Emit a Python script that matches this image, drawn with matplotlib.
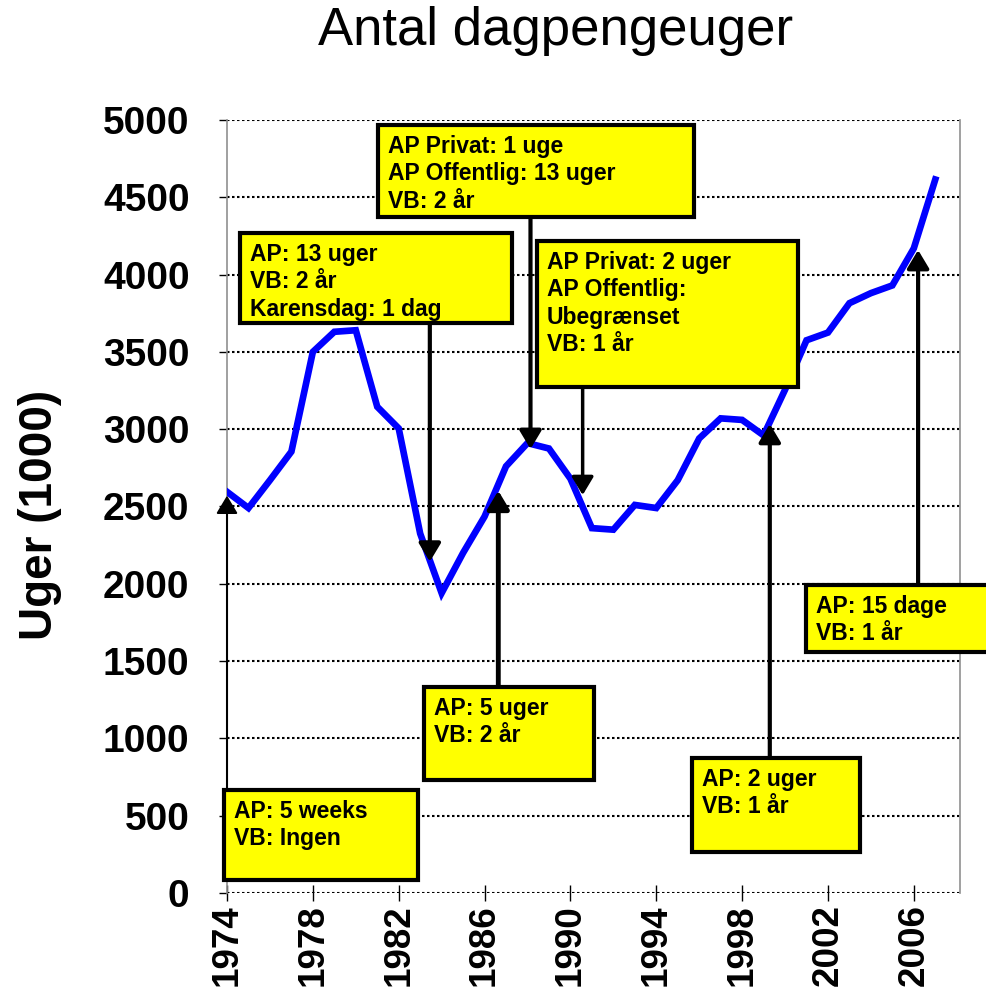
"""Antal dagpengeuger 1974-2007 med regelændringer."""
import numpy as np
import matplotlib
matplotlib.use("Agg")
import matplotlib.pyplot as plt
from matplotlib.patches import Rectangle

plt.rcParams['font.family'] = ['Liberation Sans', 'DejaVu Sans']

# * Data
years = np.arange(1974, 2008)
weeks = [2595, 2490, 2670, 2855, 3500, 3630, 3640, 3145, 3005, 2325,
         1940, 2200, 2435, 2760, 2910, 2875, 2680, 2360, 2350, 2510,
         2490, 2670, 2940, 3070, 3060, 2960, 3255, 3575, 3625, 3815,
         3880, 3930, 4170, 4615]

y_ticks = np.arange(0, 5001, 500)
x_ticks = np.arange(1974, 2007, 4)

notes = [
    "AP: 5 weeks\nVB: Ingen",
    "AP: 13 uger\nVB: 2 år\nKarensdag: 1 dag",
    "AP Privat: 1 uge\nAP Offentlig: 13 uger\nVB: 2 år",
    "AP Privat: 2 uger\nAP Offentlig:\nUbegrænset\nVB: 1 år",
    "AP: 5 uger\nVB: 2 år",
    "AP: 2 uger\nVB: 1 år",
    "AP: 15 dage\nVB: 1 år",
]

# box (left, bottom, right, top) in data coords
note_boxes = [
    (1973.86, 84, 1982.90, 666),
    (1974.61, 3687, 1987.27, 4269),
    (1981.03, 4373, 1995.75, 4968),
    (1988.44, 3273, 2000.60, 4217),
    (1983.18, 731, 1991.09, 1332),
    (1995.66, 265, 2003.48, 873),
    (2000.97, 1559, 2010.00, 1992),
]

# arrow (x, y start, y tip, linewidth)
note_arrows = [
    (1974.00, 666, 2570, 1.5),
    (1983.45, 3687, 2143, 3.0),
    (1988.14, 4373, 2872, 3.0),
    (1990.57, 3273, 2574, 2.5),
    (1986.64, 1332, 2602, 3.5),
    (1999.29, 873, 3034, 3.0),
    (2006.20, 1992, 4159, 3.0),
]

fig = plt.figure(figsize=(9.87, 9.9), dpi=100)
ax = fig.add_axes([0.23, 0.098, 0.7426, 0.7808])

ax.plot(years, weeks, color="#0000FF", lw=4.8, zorder=3, solid_joinstyle="miter")

ax.set_xlim(1974, 2008.15)
ax.set_ylim(0, 5000)
ax.set_yticks(y_ticks)
ax.set_xticks(x_ticks)
ax.set_xticklabels([str(y) for y in x_ticks], rotation=90, fontsize=26.5,
                   fontweight="bold")
ax.set_yticklabels([str(v) for v in y_ticks], fontsize=28, fontweight="bold")
ax.tick_params(axis="y", direction="out", length=6, width=1, pad=21,
               color="black")
ax.tick_params(axis="x", direction="inout", length=12, width=1, pad=2,
               color="black")

for v in y_ticks:
    ax.axhline(v, color="black", lw=1.5, ls=(0, (1.2, 1.2)), zorder=1)

ax.spines["top"].set_visible(False)
ax.spines["bottom"].set_visible(False)
for side in ("left", "right"):
    ax.spines[side].set_color("#909090")
    ax.spines[side].set_linewidth(1.2)

# * Annotations
for (x, y0, y1, lw) in note_arrows:
    ax.annotate("", xy=(x, y1), xytext=(x, y0),
                arrowprops=dict(arrowstyle="-|>,head_length=0.55,head_width=0.33",
                                mutation_scale=20, lw=lw, color="black",
                                shrinkA=0, shrinkB=0),
                zorder=5, annotation_clip=False)

for text, (l, b, r, t) in zip(notes, note_boxes):
    ax.add_patch(Rectangle((l, b), r - l, t - b, facecolor="#FFFF00",
                           edgecolor="black", lw=3, zorder=6, clip_on=False))
    ax.annotate(text, xy=(l, t), xytext=(7, -7), textcoords="offset points",
                ha="left", va="top", fontsize=16.5, fontweight="bold",
                linespacing=1.25, zorder=7, annotation_clip=False)

fig.text(0.563, 0.969, "Antal dagpengeuger", ha="center", va="center",
         fontsize=38)
fig.text(0.041, 0.48, "Uger (1000)", ha="center", va="center", rotation=90,
         fontsize=33, fontweight="bold")

plt.savefig("out.png", dpi=100)
plt.close()
